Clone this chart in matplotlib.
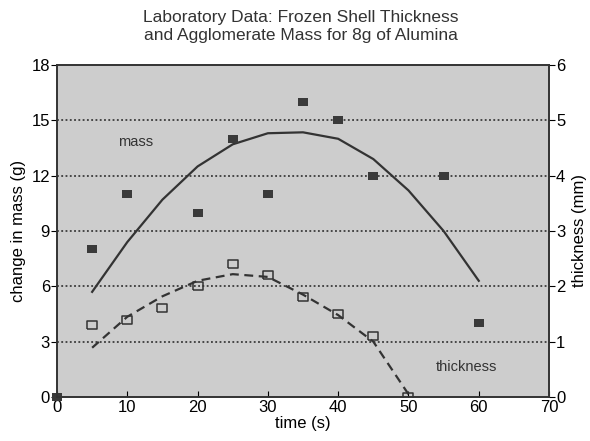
import numpy as np
import matplotlib.pyplot as plt

plt.rcParams['font.family'] = ['Liberation Sans', 'DejaVu Sans']

# measured points
mass_t = [0, 5, 10, 20, 25, 30, 35, 40, 45, 55, 60]
mass_g = [0, 8, 11, 10, 14, 11, 16, 15, 12, 12, 4]
thick_t = [5, 10, 15, 20, 25, 30, 35, 40, 45, 50]
thick_mm = [1.3, 1.4, 1.6, 2.0, 2.4, 2.2, 1.8, 1.5, 1.1, 0.0]

# fitted curves
mass_fit_t = [5, 10, 15, 20, 25, 30, 35, 40, 45, 50, 55, 60]
mass_fit_g = [5.7, 8.4, 10.7, 12.5, 13.7, 14.3, 14.35, 14.0, 12.9, 11.2, 9.0, 6.3]
thick_fit_t = [5, 10, 15, 20, 25, 30, 35, 40, 45, 50]
thick_fit_mm = [0.89, 1.45, 1.82, 2.1, 2.22, 2.17, 1.85, 1.48, 1.0, 0.05]

# flat rectangle marker, wider than tall
rect = [(-1, -0.75), (1, -0.75), (1, 0.75), (-1, 0.75), (-1, -0.75)]

fig = plt.figure(figsize=(5.9, 4.41), dpi=100)
ax = fig.add_axes([0.0966, 0.0998, 0.834, 0.7528])
ax.set_facecolor('#cdcdcd')
ax2 = ax.twinx()

ax.set_xlim(0, 70)
ax.set_ylim(0, 18)
ax2.set_ylim(0, 6)
ax.set_xticks(np.arange(0, 71, 10))
ax.set_yticks(np.arange(0, 19, 3))
ax2.set_yticks(np.arange(0, 7, 1))

for g in [3, 6, 9, 12, 15]:
    ax.axhline(g, color='#222222', ls=(0, (1.2, 1.6)), lw=1.1, zorder=1)

ax.plot(mass_fit_t, mass_fit_g, color='#333333', lw=1.6, zorder=3)
ax.plot(mass_t, mass_g, marker=rect, ls='none', color='#3a3a3a', ms=7.5, mew=0, zorder=4, clip_on=False)

ax2.plot(thick_fit_t, thick_fit_mm, color='#333333', lw=1.6, ls=(0, (4, 2.5)), zorder=3)
ax2.plot(thick_t, thick_mm, marker=rect, ls='none', mfc='none', mec='#333333', ms=7.5, mew=1.1, zorder=4)

ax.text(11.2, 13.8, 'mass', ha='center', va='center', fontsize=10.5, color='#333333')
ax.text(58.3, 1.6, 'thickness', ha='center', va='center', fontsize=10.5, color='#333333')

ax.tick_params(axis='x', direction='in', length=4, pad=2, labelsize=12)
ax.tick_params(axis='y', direction='out', length=4, pad=1, labelsize=12)
ax2.tick_params(axis='y', direction='out', length=4, pad=1, labelsize=12)
for a in (ax, ax2):
    for s in a.spines.values():
        s.set_color('#333333')
        s.set_linewidth(1.2)

ax.set_xlabel('time (s)', fontsize=12, labelpad=1)
ax.set_ylabel('change in mass (g)', fontsize=12, labelpad=4)
ax2.set_ylabel('thickness (mm)', fontsize=12, labelpad=5)

fig.text(0.51, 0.94, 'Laboratory Data: Frozen Shell Thickness\nand Agglomerate Mass for 8g of Alumina',
         ha='center', va='center', fontsize=12.5, color='#333333', linespacing=1.2)

fig.savefig('out.png', dpi=100)
